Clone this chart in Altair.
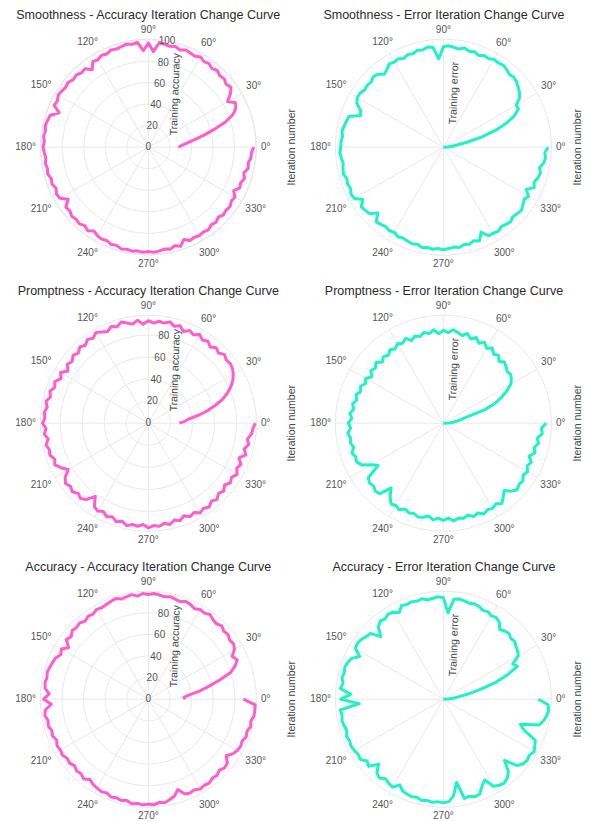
import altair as alt
import pandas as pd

# ---------------- data ----------------
TITLES = [
    "Smoothness - Accuracy Iteration Change Curve",
    "Smoothness - Error Iteration Change Curve",
    "Promptness - Accuracy Iteration Change Curve",
    "Promptness - Error Iteration Change Curve",
    "Accuracy - Accuracy Iteration Change Curve",
    "Accuracy - Error Iteration Change Curve",
]
RADIAL_TITLES = ["Training accuracy", "Training error"] * 3
ANGULAR_TITLE = "Iteration number"
ANGLE_TICKS = [0, 30, 60, 90, 120, 150, 180, 210, 240, 270, 300, 330]
RADIAL_TICKS = [0, 20, 40, 60, 80, 100]
RANGE_MAX = [100.5, 100, 98, 100, 100, 100]

SMOOTH_ACC = [
    28, 31, 36, 43, 52, 63, 75, 84, 89, 91,
    85, 91, 95, 93, 95, 94, 96, 94, 96, 95,
    97, 95, 96, 97, 95, 97, 96, 97, 98, 89,
    97, 90, 98, 97, 98, 97, 96, 97, 95, 96,
    94, 95, 89, 94, 93, 95, 94, 96, 95, 96,
    97, 95, 96, 89, 96, 97, 98, 97, 98, 97,
    98, 97, 96, 97, 96, 97, 95, 96, 94, 96,
    95, 89, 95, 94, 96, 95, 96, 94, 96, 93,
    95, 96, 95, 97, 96, 98, 97, 98, 97, 98,
    97, 98, 97, 96, 97, 95, 97, 92, 95, 94,
    95, 94, 95, 93, 94, 92, 94, 93, 94, 92,
    93, 89, 93, 92, 94, 92, 95, 94, 96, 96,
    98,
]
SMOOTH_ERR = [
    0, 4, 8, 13, 23, 37, 51, 63, 72, 78,
    78, 84, 87, 89, 91, 92, 91, 93, 94, 93,
    94, 92, 93, 91, 93, 92, 94, 92, 93, 94,
    93, 82, 93, 94, 92, 93, 91, 92, 90, 92,
    91, 92, 89, 87, 91, 92, 90, 91, 90, 92,
    92, 90, 84, 82, 92, 93, 94, 95, 94, 95,
    95, 96, 95, 94, 95, 96, 94, 95, 94, 96,
    95, 89, 94, 93, 92, 86, 93, 92, 91, 92,
    91, 93, 92, 93, 94, 93, 95, 94, 95, 94,
    95, 94, 93, 94, 92, 93, 91, 93, 86, 92,
    92, 93, 91, 92, 93, 91, 92, 93, 91, 89,
    91, 86, 92, 90, 92, 93, 91, 94, 95, 94,
    97,
]
PROMPT_ACC = [
    28, 33, 37, 46, 55, 63, 71, 77, 82, 86,
    89, 91, 92, 91, 93, 90, 92, 89, 92, 90,
    93, 90, 92, 89, 93, 91, 94, 92, 93, 91,
    93, 90, 94, 91, 93, 95, 92, 94, 91, 93,
    95, 92, 94, 91, 93, 90, 92, 89, 91, 87,
    92, 89, 93, 91, 94, 92, 95, 93, 95, 94,
    96, 93, 95, 92, 95, 93, 94, 91, 93, 89,
    84, 90, 93, 91, 93, 90, 92, 89, 82, 90,
    92, 90, 93, 91, 94, 92, 95, 93, 94, 92,
    95, 93, 94, 92, 94, 91, 93, 90, 93, 91,
    94, 92, 94, 91, 93, 90, 92, 89, 92, 90,
    93, 90, 92, 88, 93, 90, 93, 91, 94, 95,
    97,
]
PROMPT_ERR = [
    0, 5, 9, 13, 17, 22, 40, 51, 59, 66,
    72, 75, 77, 76, 78, 80, 77, 81, 79, 83,
    80, 84, 81, 85, 82, 86, 83, 85, 87, 84,
    86, 83, 87, 84, 86, 83, 85, 82, 86, 83,
    85, 82, 84, 81, 83, 80, 84, 81, 83, 79,
    83, 81, 84, 82, 85, 83, 86, 84, 87, 85,
    88, 86, 89, 87, 88, 86, 89, 87, 88, 85,
    77, 72, 86, 88, 87, 89, 88, 77, 84, 89,
    88, 90, 87, 89, 88, 90, 89, 87, 90, 88,
    90, 88, 91, 89, 90, 88, 91, 89, 92, 90,
    91, 89, 92, 88, 84, 89, 92, 90, 91, 88,
    90, 87, 89, 85, 89, 87, 90, 88, 92, 91,
    95,
]
ACC_ACC = [
    34, 33, 38, 48, 57, 68, 80, 86, 90, 87,
    92, 94, 93, 95, 94, 96, 94, 95, 97, 95,
    96, 94, 96, 97, 95, 96, 97, 96, 97, 98,
    97, 98, 96, 98, 97, 96, 98, 97, 96, 95,
    96, 94, 95, 93, 95, 94, 95, 92, 94, 88,
    93, 91, 94, 95, 96, 97, 96, 97, 96, 92,
    97, 90, 96, 97, 95, 96, 94, 95, 93, 95,
    94, 95, 93, 94, 92, 94, 93, 95, 92, 94,
    95, 96, 95, 97, 96, 97, 96, 98, 97, 98,
    97, 98, 96, 97, 95, 93, 88, 94, 95, 94,
    96, 95, 96, 94, 95, 93, 95, 94, 89, 93,
    95, 96, 95, 97, 96, 98, 97, 99, 99, 99,
    88,
]
ACC_ERR = [
    0, 4, 9, 14, 24, 36, 52, 64, 75, 72,
    80, 82, 83, 85, 84, 86, 85, 83, 88, 90,
    89, 91, 90, 92, 93, 92, 93, 94, 93, 80,
    94, 95, 94, 93, 95, 94, 95, 94, 95, 90,
    93, 94, 92, 93, 90, 82, 91, 92, 94, 95,
    94, 87, 93, 95, 96, 95, 96, 94, 96, 86,
    95, 78, 96, 95, 96, 95, 94, 96, 95, 96,
    95, 94, 95, 91, 93, 85, 92, 94, 91, 93,
    94, 89, 93, 94, 95, 94, 96, 95, 96, 95,
    96, 95, 90, 78, 94, 93, 95, 94, 88, 84,
    93, 95, 96, 94, 90, 80, 92, 95, 96, 95,
    97, 95, 93, 80, 75, 92, 95, 97, 98, 97,
    88,
]
SERIES = [SMOOTH_ACC, SMOOTH_ERR, PROMPT_ACC, PROMPT_ERR, ACC_ACC, ACC_ERR]

# ---------------- styling / layout ----------------
PINK = "#ff5ccf"
CYAN = "#1ff2c6"
GRID = "#e8e8e8"
FONT = "Liberation Sans"
K = 1.08  # px per radial unit (outer ring = 100 units)
Y_DOM = [-115, 115]
X_DOMS = [[-130, 139], [-130, 131]]
ITER_X = [133, 125]
TITLE_DX = [-5, 0]


def polar_panel(i):
    values = SERIES[i]
    rmax = RANGE_MAX[i]
    col = i % 2
    is_acc = col == 0
    color = PINK if is_acc else CYAN
    xdom = X_DOMS[col]
    n = len(values)

    xs = alt.Scale(domain=xdom, nice=False, zero=False)
    ys = alt.Scale(domain=Y_DOM, nice=False, zero=False)

    def X(f):
        return alt.X(f, type="quantitative", scale=xs, axis=None)

    def Y(f):
        return alt.Y(f, type="quantitative", scale=ys, axis=None)

    # grid rings
    ring_r = [t / rmax * 100 for t in RADIAL_TICKS if 0 < t < rmax] if is_acc else []
    ring_r.append(100)
    ring_df = pd.DataFrame(
        [(r, a) for r in ring_r for a in range(0, 361, 2)], columns=["ring", "a"]
    )
    rings = (
        alt.Chart(ring_df)
        .transform_calculate(
            x="datum.ring*cos(datum.a*PI/180)", y="datum.ring*sin(datum.a*PI/180)"
        )
        .mark_line(color=GRID, strokeWidth=1)
        .encode(x=X("x"), y=Y("y"), detail="ring:N", order="a:Q")
    )

    spoke_df = pd.DataFrame({"a": ANGLE_TICKS})
    spokes = (
        alt.Chart(spoke_df)
        .transform_calculate(
            x0="0",
            y0="0",
            x1="100*cos(datum.a*PI/180)",
            y1="100*sin(datum.a*PI/180)",
        )
        .mark_rule(color=GRID, strokeWidth=1)
        .encode(x=X("x0"), y=Y("y0"), x2="x1:Q", y2="y1:Q")
    )

    line_df = pd.DataFrame({"iteration": list(range(n)), "value": values})
    line = (
        alt.Chart(line_df)
        .transform_calculate(
            theta=f"datum.iteration*360/{n - 1}*PI/180",
            rr=f"datum.value/{rmax}*100",
        )
        .transform_calculate(
            x="datum.rr*cos(datum.theta)", y="datum.rr*sin(datum.theta)"
        )
        .mark_line(color=color, strokeWidth=3, strokeJoin="round")
        .encode(x=X("x"), y=Y("y"), order="iteration:Q")
    )

    ang_labels = (
        alt.Chart(spoke_df)
        .transform_calculate(label="datum.a + '°'", rad="datum.a*PI/180")
        .transform_calculate(
            rp=f"(100*{K} + 4 + 0.5*length(datum.label)*5.4*abs(cos(datum.rad)) + 5*abs(sin(datum.rad)))/{K}"
        )
        .transform_calculate(
            x="datum.rp*cos(datum.rad)", y="datum.rp*sin(datum.rad)"
        )
        .mark_text(fontSize=10, color="#555555", font=FONT, align="center", baseline="middle")
        .encode(x=X("x"), y=Y("y"), text="label:N")
    )

    layers = [rings, spokes, line, ang_labels]

    if is_acc:
        tick_df = pd.DataFrame({"t": [t for t in RADIAL_TICKS if t < rmax]})
        ticks = (
            alt.Chart(tick_df)
            .transform_calculate(rr=f"datum.t/{rmax}*100")
            .transform_calculate(
                x="datum.rr*cos(80*PI/180)", y="datum.rr*sin(80*PI/180)"
            )
            .mark_text(fontSize=10, color="#555555", font=FONT, align="center", baseline="middle")
            .encode(x=X("x"), y=Y("y"), text="t:Q")
        )
        layers.append(ticks)
        rt_x, rt_y = 25, 49
    else:
        rt_x, rt_y = 10, 50

    rtitle = (
        alt.Chart(pd.DataFrame({"t": [RADIAL_TITLES[i]]}))
        .mark_text(fontSize=10.5, color="#444444", font=FONT, angle=272, align="center", baseline="middle")
        .encode(x=alt.datum(rt_x), y=alt.datum(rt_y), text="t:N")
    )
    ititle = (
        alt.Chart(pd.DataFrame({"t": [ANGULAR_TITLE]}))
        .mark_text(fontSize=10.5, color="#444444", font=FONT, angle=270, align="center", baseline="middle")
        .encode(x=alt.datum(ITER_X[col]), y=alt.datum(0), text="t:N")
    )
    layers += [rtitle, ititle]

    return alt.layer(*layers).properties(
        width=(xdom[1] - xdom[0]) * K,
        height=(Y_DOM[1] - Y_DOM[0]) * K,
        title=alt.TitleParams(
            text=TITLES[i],
            font=FONT,
            fontSize=12.5,
            fontWeight="normal",
            color="#2b2b2b",
            anchor="middle",
            offset=2,
            dx=TITLE_DX[col],
        ),
    )


rows = [
    alt.hconcat(polar_panel(2 * r), polar_panel(2 * r + 1), spacing=4)
    for r in range(3)
]
chart = (
    alt.vconcat(*rows, spacing=12)
    .properties(padding=0)
    .configure_view(stroke=None)
)

chart.save("out.html", embed_options={"renderer": "svg", "actions": False})
